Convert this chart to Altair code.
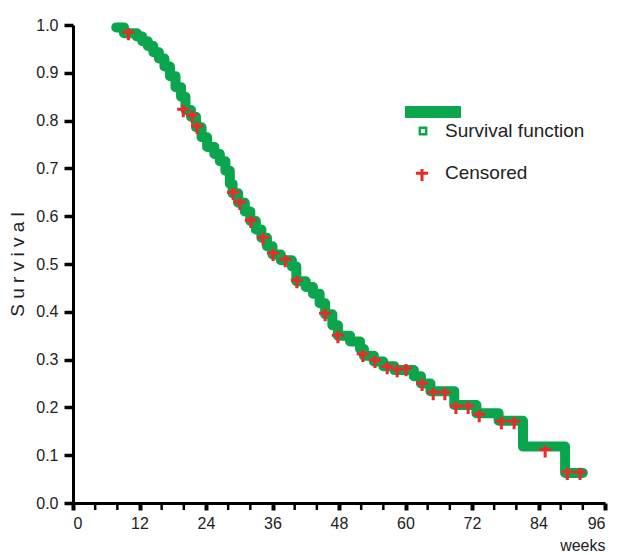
import altair as alt
import pandas as pd

# Kaplan-Meier step curve (weeks, survival)
step_weeks = [7.8, 9.2, 11.5, 12.5, 13.5, 14.5, 15.5, 16.5, 17.5, 18.5, 19.5, 20.3, 21.3,
              22.2, 23.2, 24.2, 25.5, 26.5, 27.5, 28.3, 28.8, 29.8, 31, 32, 33, 34, 35, 36,
              37.5, 39.5, 40.3, 42, 43.3, 44.5, 45.5, 46.8, 47.8, 50, 51.8, 52.5, 54.3, 56,
              58, 61.5, 62.8, 64.5, 68.8, 72.8, 76.8, 81.2, 88.8, 92]
step_surv = [0.995, 0.983, 0.976, 0.966, 0.956, 0.943, 0.93, 0.913, 0.893, 0.87, 0.85,
             0.822, 0.808, 0.786, 0.765, 0.745, 0.73, 0.715, 0.695, 0.668, 0.648, 0.628,
             0.61, 0.59, 0.572, 0.555, 0.537, 0.52, 0.508, 0.495, 0.464, 0.452, 0.438,
             0.418, 0.395, 0.372, 0.35, 0.338, 0.322, 0.308, 0.296, 0.286, 0.278, 0.265,
             0.25, 0.234, 0.205, 0.188, 0.172, 0.118, 0.063, 0.063]

# Censored observations
cens_weeks = [10, 19.9, 21.5, 22.4, 28.9, 30.1, 32.1, 34.3, 36.1, 38.3, 40.4, 45.5, 47.8,
              52.3, 54.5, 56.7, 58.5, 60.1, 63.0, 65.0, 67.1, 69.1, 71.3, 73.3, 77.3, 79.6,
              85.2, 89.2, 91.5]
cens_surv = [0.981, 0.820, 0.808, 0.785, 0.646, 0.626, 0.588, 0.552, 0.519, 0.506, 0.462,
             0.393, 0.347, 0.308, 0.295, 0.282, 0.276, 0.278, 0.247, 0.228, 0.228, 0.199,
             0.199, 0.182, 0.167, 0.167, 0.108, 0.061, 0.061]

x_major = [0, 12, 24, 36, 48, 60, 72, 84, 96]
x_minor = [4, 8, 16, 20, 28, 32, 40, 44, 52, 56, 64, 68, 76, 80, 88, 92]
y_ticks = [0.0, 0.1, 0.2, 0.3, 0.4, 0.5, 0.6, 0.7, 0.8, 0.9, 1.0]

legend_labels = ["Survival function", "Censored"]

GREEN = "#0aa54d"
RED = "#ec2a2a"
FONT = "Liberation Sans"
CROSS = "M-1,-0.55L1,-0.55L1,-0.05L-1,-0.05Z M-0.25,-1L0.25,-1L0.25,1L-0.25,1Z"
W, H = 532, 478

step_df = pd.DataFrame({"weeks": step_weeks, "survival": step_surv})
cens_df = pd.DataFrame({"weeks": cens_weeks, "survival": cens_surv})
minor_df = pd.DataFrame({"weeks": x_minor})

xscale = alt.Scale(domain=[0, 96], nice=False, zero=False)
yscale = alt.Scale(domain=[0, 1.0], nice=False)

xaxis = alt.Axis(values=x_major, labelOverlap=False, title="weeks",
                 titleAnchor="end", titleAlign="right", tickSize=7, tickWidth=4)
yaxis = alt.Axis(values=y_ticks, format=".1f", labelOverlap=False,
                 title="S u r v i v a l", tickSize=9, tickWidth=3.5)

line = alt.Chart(step_df).mark_line(
    interpolate="step-after", color=GREEN, strokeWidth=10,
    strokeCap="round", strokeJoin="round"
).encode(
    x=alt.X("weeks:Q", scale=xscale, axis=xaxis),
    y=alt.Y("survival:Q", scale=yscale, axis=yaxis),
)

minor = alt.Chart(minor_df).mark_rule(color="black", strokeWidth=2.5).encode(
    x=alt.X("weeks:Q", scale=xscale),
    y=alt.value(H), y2=alt.value(H + 7),
)

cens = alt.Chart(cens_df).mark_point(
    shape=CROSS, filled=True, color=RED, size=150, opacity=1
).encode(
    x=alt.X("weeks:Q", scale=xscale),
    y=alt.Y("survival:Q", scale=yscale),
)

# manual legend
leg_bar = alt.Chart(pd.DataFrame({"k": [0]})).mark_rule(
    color=GREEN, strokeWidth=12
).encode(x=alt.value(332), x2=alt.value(388), y=alt.value(87))

leg_sq = alt.Chart(pd.DataFrame({"k": [0]})).mark_point(
    shape="square", filled=False, color=GREEN, strokeWidth=2.5, size=40, opacity=1
).encode(x=alt.value(350), y=alt.value(106))

leg_cross = alt.Chart(pd.DataFrame({"k": [0]})).mark_point(
    shape=CROSS, filled=True, color=RED, size=150, opacity=1
).encode(x=alt.value(349), y=alt.value(150))

leg_text = alt.Chart(pd.DataFrame({"label": legend_labels, "yy": [106, 148]})).mark_text(
    align="left", baseline="middle", font=FONT, fontSize=19, color="#222"
).encode(x=alt.value(372), y=alt.Y("yy:Q", scale=None), text="label:N")

chart = alt.layer(line, minor, cens, leg_bar, leg_sq, leg_cross, leg_text).properties(
    width=W, height=H, background="white",
    padding={"left": 0, "top": 9, "right": 8, "bottom": 0},
).configure_view(
    stroke=None, strokeWidth=0
).configure_axis(
    labelFont=FONT, labelFontSize=16, labelColor="#222", labelPadding=6,
    titleFont=FONT, titleFontWeight="normal", titleColor="#222",
    tickColor="black", domainColor="black", domainWidth=3, grid=False,
).configure_axisX(
    titleFontSize=16, titlePadding=6, labelPadding=5,
).configure_axisY(
    titleFontSize=19, titlePadding=8,
)

chart.save("out.html", embed_options={"renderer": "svg", "actions": False})
